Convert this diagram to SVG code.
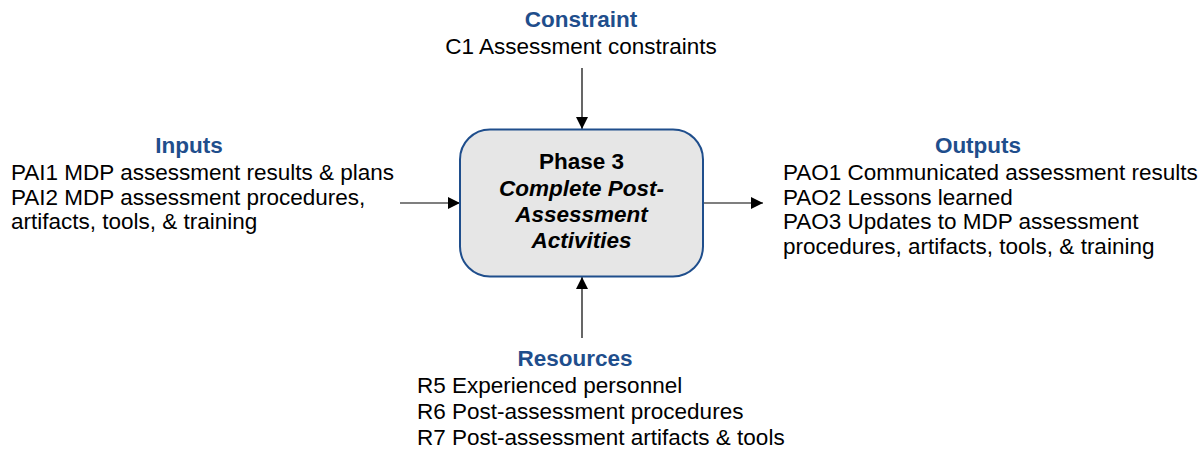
<svg xmlns="http://www.w3.org/2000/svg" width="1202" height="451" viewBox="0 0 1202 451">
<style>
text{font-family:"Liberation Sans",Arial,sans-serif;font-size:22.5px;fill:#000}
.h{font-weight:bold;fill:#1f4e8c;text-anchor:middle}
.bt{font-weight:bold;text-anchor:middle}
.it{font-style:italic}
.c{stroke:#000;stroke-width:1.2;fill:none}
</style>
<defs>
<marker id="ah" markerWidth="12" markerHeight="12" refX="12" refY="6" orient="auto" markerUnits="userSpaceOnUse">
<path d="M0,0 L12,6 L0,12 Z" fill="#000"/>
</marker>
</defs>
<rect width="1202" height="451" fill="#fff"/>
<g id="connectors">
<line class="c" x1="582" y1="68" x2="582" y2="129" marker-end="url(#ah)"/>
<line class="c" x1="400" y1="203" x2="460" y2="203" marker-end="url(#ah)"/>
<line class="c" x1="703" y1="203" x2="763" y2="203" marker-end="url(#ah)"/>
<line class="c" x1="582" y1="338" x2="582" y2="277" marker-end="url(#ah)"/>
</g>
<g id="phase3">
<rect x="460" y="129.5" width="243" height="147" rx="30" ry="30" fill="#e6e6e6" stroke="#1f4e8c" stroke-width="2"/>
<text class="bt" x="581.5" y="169">Phase 3</text>
<text class="bt it" x="581.5" y="196">Complete Post-</text>
<text class="bt it" x="581.5" y="222">Assessment</text>
<text class="bt it" x="581.5" y="248">Activities</text>
</g>
<g id="constraint">
<text class="h" x="581" y="27">Constraint</text>
<text x="581" y="54" text-anchor="middle">C1 Assessment constraints</text>
</g>
<g id="inputs">
<text class="h" x="189" y="153">Inputs</text>
<text x="11" y="180">PAI1 MDP assessment results &amp; plans</text>
<text x="11" y="204.5">PAI2 MDP assessment procedures,</text>
<text x="11" y="229">artifacts, tools, &amp; training</text>
</g>
<g id="outputs">
<text class="h" x="978" y="153">Outputs</text>
<text x="783" y="180">PAO1 Communicated assessment results</text>
<text x="783" y="204.5">PAO2 Lessons learned</text>
<text x="783" y="229">PAO3 Updates to MDP assessment</text>
<text x="783" y="253.5">procedures, artifacts, tools, &amp; training</text>
</g>
<g id="resources">
<text class="h" x="575" y="366">Resources</text>
<text x="417" y="393">R5 Experienced personnel</text>
<text x="417" y="419">R6 Post-assessment procedures</text>
<text x="417" y="445">R7 Post-assessment artifacts &amp; tools</text>
</g>
</svg>
